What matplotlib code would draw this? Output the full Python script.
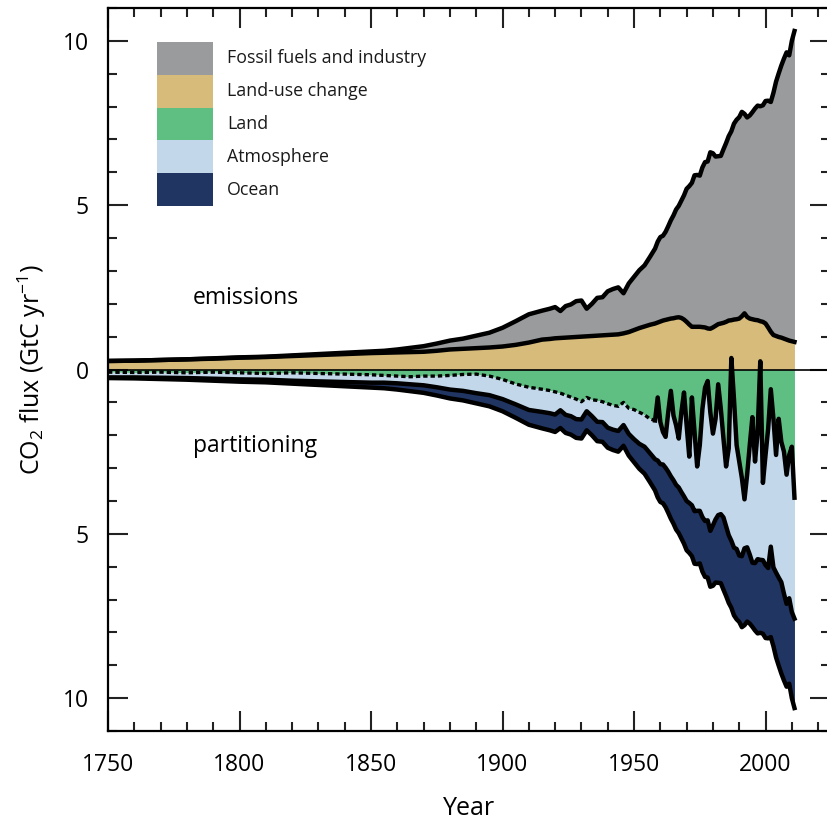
import matplotlib
matplotlib.use("Agg")
import matplotlib.pyplot as plt
from matplotlib.patches import Rectangle
from matplotlib.ticker import MultipleLocator, FuncFormatter
import numpy as np

plt.rcParams['font.family'] = ['Open Sans', 'DejaVu Sans']
plt.rcParams['mathtext.fontset'] = 'custom'
plt.rcParams['mathtext.rm'] = 'Open Sans'
plt.rcParams['mathtext.it'] = 'Open Sans:italic'

# sampling years: decadal early on, then 5-yearly, 2-yearly, annual from 1959
years = (list(range(1750, 1851, 10)) + list(range(1855, 1916, 5))
         + list(range(1918, 1959, 2)) + list(range(1959, 2012)))

# emissions (GtC/yr)
fossil = [0.00, 0.00, 0.00, 0.00, 0.01, 0.01, 0.01, 0.02, 0.03, 0.04, 0.05,
          0.06, 0.09, 0.13, 0.17, 0.22, 0.27, 0.31, 0.38, 0.45, 0.57, 0.72, 0.86, 0.88,
          0.92, 0.95, 0.82, 0.96, 1.00, 1.09, 1.10, 0.84, 0.98, 1.15, 1.16, 1.33, 1.39,
          1.43, 1.22, 1.48, 1.62, 1.76, 1.86, 2.06, 2.28,
          2.46, 2.57, 2.58, 2.68, 2.83, 2.99, 3.13, 3.29, 3.39, 3.57,
          3.78, 4.05, 4.21, 4.38, 4.61, 4.62, 4.60, 4.86, 5.03, 5.08,
          5.37, 5.30, 5.15, 5.11, 5.10, 5.28, 5.44, 5.61, 5.75, 5.96,
          6.07, 6.13, 6.22, 6.07, 6.07, 6.18, 6.30, 6.43, 6.53, 6.54,
          6.59, 6.77, 6.90, 6.99, 7.37, 7.74, 8.02, 8.28, 8.52, 8.74,
          8.68, 9.14, 9.46]
land_use = [0.26, 0.27, 0.29, 0.31, 0.33, 0.36, 0.38, 0.41, 0.44, 0.47, 0.50,
            0.51, 0.52, 0.53, 0.54, 0.57, 0.61, 0.63, 0.65, 0.67, 0.70, 0.75, 0.82, 0.91,
            0.93, 0.95, 0.96, 0.97, 0.98, 0.99, 1.00, 1.01, 1.02, 1.03, 1.04, 1.05, 1.06,
            1.07, 1.10, 1.14, 1.20, 1.26, 1.31, 1.36, 1.40,
            1.43, 1.46, 1.49, 1.51, 1.53, 1.55, 1.56, 1.58, 1.59, 1.57,
            1.52, 1.45, 1.37, 1.30, 1.30, 1.30, 1.30, 1.29, 1.28, 1.25,
            1.24, 1.28, 1.33, 1.38, 1.40, 1.42, 1.45, 1.49, 1.50, 1.52,
            1.53, 1.55, 1.62, 1.71, 1.60, 1.55, 1.53, 1.51, 1.50, 1.47,
            1.45, 1.40, 1.28, 1.15, 1.05, 1.02, 0.99, 0.97, 0.94, 0.91,
            0.88, 0.86, 0.84]

# partitioning (GtC/yr, drawn downwards)
land = [0.08, 0.09, 0.08, 0.10, 0.08, 0.10, 0.12, 0.10, 0.12, 0.14, 0.16,
        0.18, 0.20, 0.22, 0.20, 0.20, 0.18, 0.15, 0.14, 0.20, 0.30, 0.44, 0.54, 0.60,
        0.64, 0.68, 0.72, 0.78, 0.84, 0.90, 0.98, 0.85, 0.92, 0.94, 0.98, 1.04, 1.09,
        1.12, 1.00, 1.18, 1.22, 1.30, 1.38, 1.50, 1.55,
        0.85, 1.60, 1.90, 2.05, 1.30, 0.65, 1.40, 1.70, 2.10, 1.30,
        0.70, 1.70, 2.65, 0.85, 1.90, 2.95, 2.30, 1.20, 0.55, 0.35,
        1.30, 1.95, 1.50, 0.45, 1.20, 2.10, 2.95, 2.40, -0.35, 0.90,
        2.30, 2.80, 3.30, 3.95, 3.20, 2.30, 1.45, 2.80, 1.90, -0.25,
        3.45, 2.60, 1.80, 0.60, 1.50, 2.60, 1.50, 2.20, 2.50, 3.20,
        2.60, 2.35, 3.90]
atmosphere = [0.16, 0.15, 0.17, 0.16, 0.20, 0.20, 0.19, 0.24, 0.24, 0.24, 0.24,
              0.22, 0.22, 0.23, 0.28, 0.34, 0.43, 0.50, 0.58, 0.58, 0.60, 0.62, 0.69, 0.69,
              0.69, 0.69, 0.52, 0.60, 0.58, 0.61, 0.54, 0.42, 0.50, 0.65, 0.62, 0.73, 0.74,
              0.75, 0.69, 0.78, 0.90, 0.96, 0.97, 1.04, 1.18,
              1.92, 1.28, 0.99, 0.94, 1.81, 2.60, 1.97, 1.81, 1.49, 2.43,
              3.16, 2.30, 1.41, 3.28, 2.41, 1.35, 2.00, 3.29, 4.06, 4.24,
              3.61, 2.79, 3.06, 3.98, 3.20, 2.40, 1.82, 2.64, 5.56, 4.52,
              3.16, 2.86, 2.38, 1.49, 2.21, 3.33, 4.43, 3.09, 3.87, 6.04,
              2.35, 3.35, 4.24, 4.79, 4.52, 3.58, 4.83, 4.27, 4.32, 3.93,
              4.36, 5.03, 3.68]
ocean = [0.02, 0.03, 0.04, 0.05, 0.06, 0.07, 0.08, 0.09, 0.11, 0.13, 0.15,
         0.17, 0.19, 0.21, 0.23, 0.25, 0.27, 0.29, 0.31, 0.34, 0.37, 0.41, 0.45, 0.50,
         0.52, 0.53, 0.54, 0.55, 0.56, 0.57, 0.58, 0.58, 0.58, 0.59, 0.60, 0.61, 0.62,
         0.63, 0.63, 0.66, 0.70, 0.76, 0.82, 0.88, 0.95,
         1.12, 1.15, 1.18, 1.20, 1.25, 1.29, 1.32, 1.36, 1.39, 1.41,
         1.44, 1.50, 1.52, 1.55, 1.60, 1.62, 1.60, 1.66, 1.70, 1.74,
         1.70, 1.84, 1.92, 2.06, 2.10, 2.20, 2.12, 2.06, 2.04, 2.06,
         2.14, 2.02, 2.16, 2.34, 2.26, 2.10, 1.95, 2.05, 2.26, 2.22,
         2.24, 2.22, 2.14, 2.75, 2.40, 2.58, 2.68, 2.78, 2.64, 2.52,
         2.60, 2.62, 2.72]

labels = ['Fossil fuels and industry', 'Land-use change', 'Land', 'Atmosphere', 'Ocean']
colors = ['#999b9c', '#d6bb7b', '#5fbf83', '#c2d8ea', '#213563']

yr = np.array(years)
luc = np.array(land_use)
emit_top = luc + np.array(fossil)
land_edge = -np.array(land)
atm_edge = land_edge - np.array(atmosphere)
ocean_edge = atm_edge - np.array(ocean)

fig = plt.figure(figsize=(8.27, 8.25), dpi=100)
ax = fig.add_axes([0.1306, 0.1139, 0.873, 0.8764])

ax.fill_between(yr, 0, luc, color=colors[1], lw=0)
ax.fill_between(yr, luc, emit_top, color=colors[0], lw=0)
ax.fill_between(yr, 0, land_edge, color=colors[2], lw=0)
ax.fill_between(yr, land_edge, atm_edge, color=colors[3], lw=0)
ax.fill_between(yr, atm_edge, ocean_edge, color=colors[4], lw=0)

lw = 3.2
ax.plot(yr, emit_top, color='k', lw=lw)
ax.plot(yr, luc, color='k', lw=lw)
ax.plot(yr, atm_edge, color='k', lw=lw)
ax.plot(yr, ocean_edge, color='k', lw=lw)
# land sink: dotted in the ice-core era, solid from 1958 on
split = years.index(1958)
ax.plot(yr[:split + 1], land_edge[:split + 1], color='k', lw=2.4,
        linestyle=(0, (1.3, 0.9)))
ax.plot(yr[split:], land_edge[split:], color='k', lw=lw)
ax.axhline(0, color='k', lw=1.2)

ax.text(1782.4, 2.19, 'emissions', va='center', ha='left', fontsize=16.5)
ax.text(1782.4, -2.34, 'partitioning', va='center', ha='left', fontsize=16.5)

# legend: stacked colour blocks with labels
box_x, box_w, box_top, box_h = 0.0679, 0.0776, 0.953, 0.0454
for i, (lab, c) in enumerate(zip(labels, colors)):
    ax.add_patch(Rectangle((box_x, box_top - (i + 1) * box_h), box_w, box_h,
                           transform=ax.transAxes, facecolor=c, edgecolor='none',
                           zorder=5))
    ax.text(box_x + box_w + 0.0195, box_top - (i + 0.5) * box_h, lab,
            transform=ax.transAxes, va='center', ha='left', fontsize=12.8,
            color='#1a1a1a')

ax.set_xlim(1750, 2024.5)
ax.set_ylim(-11, 11)
ax.set_xticks(range(1750, 2001, 50))
ax.xaxis.set_minor_locator(MultipleLocator(10))
ax.set_yticks([-10, -5, 0, 5, 10])
ax.yaxis.set_minor_locator(MultipleLocator(1))
ax.yaxis.set_major_formatter(FuncFormatter(lambda v, p: f'{abs(v):g}'))
ax.tick_params(which='both', direction='in', top=True, right=True,
               labelsize=16.5, width=1.5, color='#222222')
ax.tick_params(which='major', length=14.5)
ax.tick_params(which='minor', length=6.5)
ax.tick_params(axis='x', pad=16)
ax.tick_params(axis='y', pad=14)
for s in ax.spines.values():
    s.set_linewidth(1.6)

ax.set_xlabel('Year', fontsize=18)
ax.xaxis.set_label_coords(0.5, -0.09)
ax.set_ylabel('CO$_2$ flux (GtC yr$^{-1}$)', fontsize=18)
ax.yaxis.set_label_coords(-0.083, 0.5)

fig.savefig('out.png', dpi=100)
